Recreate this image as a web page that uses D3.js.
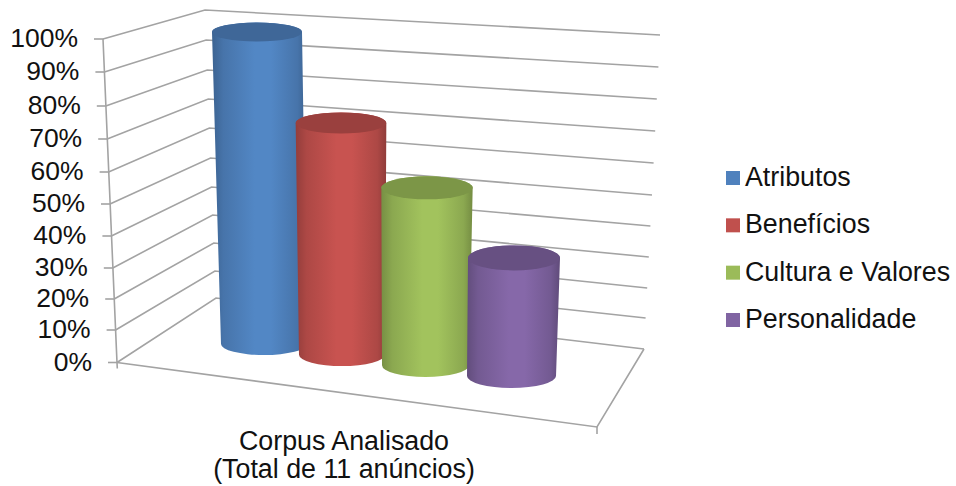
<!DOCTYPE html>
<html>
<head>
<meta charset="utf-8">
<script src="https://cdn.jsdelivr.net/npm/d3@7"></script>
<style>
  html, body { margin: 0; padding: 0; background: #fff; }
  svg { display: block; }
  text { font-family: "Liberation Sans", Arial, sans-serif; fill: #111; }
</style>
</head>
<body>
<svg id="chart" width="956" height="486"></svg>
<script>
const categories = ["Atributos", "Benefícios", "Cultura e Valores", "Personalidade"];
const seriesValues = [100, 73, 55, 36];
const tickValues = [0, 10, 20, 30, 40, 50, 60, 70, 80, 90, 100];
const axisLines = ["Corpus Analisado", "(Total de 11 anúncios)"];

const baseColors = ["#4F81BD", "#C0504D", "#9BBB59", "#8064A2"];

const svg = d3.select("#chart");
const defs = svg.append("defs");

// Corners of the 3D frame as functions of the axis value; the y scales are
// piecewise because perspective stretches the upper part of each wall
const pct = d3.scaleLinear().domain([0, 100]);
const frontX = pct.copy().range([117, 103]);
const frontY = d3.scaleLinear(tickValues, [362.5, 330, 299, 268, 236, 204, 172, 139, 106, 72, 39]);
const cornerX = pct.copy().range([216, 205]);
const cornerY = d3.scaleLinear(tickValues, [298, 271, 243, 215, 187, 158, 128, 99, 70, 40, 10]);
const rightX = pct.copy().range([644, 660]);
const rightY = d3.scaleLinear(tickValues, [349, 318, 288, 257, 226, 195, 163, 131, 99, 67, 35]);
const nearRight = [597, 427];

const gridColor = "#a3a3a3";
const line = d3.line();
const frame = svg.append("g")
  .attr("fill", "none")
  .attr("stroke", gridColor)
  .attr("stroke-width", 1.6);

// Side wall and back wall gridlines
tickValues.forEach(v => {
  frame.append("path").attr("d", line([
    [frontX(v), frontY(v)],
    [cornerX(v), cornerY(v)],
    [rightX(v), rightY(v)]
  ]));
  // tick mark to the left of the value axis
  frame.append("path").attr("d", line([
    [frontX(v) - 9, frontY(v)],
    [frontX(v), frontY(v)]
  ]));
});

// Value axis, floor edges and the tick hanging below the front corners
frame.append("path").attr("d", line([[frontX(100), frontY(100)], [frontX(0), frontY(0)], [frontX(0) + 0.3, frontY(0) + 6]]));
frame.append("path").attr("d", line([[frontX(0), frontY(0)], nearRight, [rightX(0), rightY(0)]]));
frame.append("path").attr("d", line([nearRight, [nearRight[0], nearRight[1] + 7]]));

// Value labels follow the slant of the axis
svg.append("g").selectAll("text").data(tickValues).join("text")
  .attr("x", v => frontX(v) - 25)
  .attr("y", v => frontY(v) + 8)
  .attr("text-anchor", "end")
  .attr("font-size", 26.5)
  .text(v => v + "%");

// Cylinders recede one step per series: later ones sit lower and slightly larger
const topCx = d3.scaleOrdinal(categories, [257, 341, 427, 514]);
const baseCx = d3.scaleOrdinal(categories, [264, 342, 425.5, 511.5]);
const baseCy = d3.scalePoint().domain(categories).range([344, 376]);
const unitPx = d3.scalePoint().domain(categories).range([3.12, 3.28]);
const topRx = d3.scalePoint().domain(categories).range([45, 46]);
const baseRx = d3.scaleOrdinal(categories, [43, 43, 43.5, 44.5]);
const topRy = d3.scalePoint().domain(categories).range([9.5, 12.5]);
const baseRy = d3.scalePoint().domain(categories).range([11, 12]);

categories.forEach((name, i) => {
  const c = d3.color(baseColors[i]);
  const g = defs.append("linearGradient").attr("id", "side" + i)
    .attr("x1", "0%").attr("x2", "100%").attr("y1", "0%").attr("y2", "0%");
  [[0, c.darker(0.75)], [0.12, c.darker(0.3)], [0.45, c.brighter(0.12)], [0.62, c.brighter(0.12)], [0.9, c.darker(0.3)], [1, c.darker(0.8)]]
    .forEach(([o, col]) => g.append("stop").attr("offset", o).attr("stop-color", col));
});

const bars = svg.append("g");
categories.forEach((name, i) => {
  const tx = topCx(name), trx = topRx(name), tr = topRy(name);
  const bx = baseCx(name), brx = baseRx(name), br = baseRy(name);
  const by = baseCy(name);
  const ty = by - seriesValues[i] * unitPx(name);
  const body = `M${tx - trx},${ty}
    L${bx - brx},${by}
    A${brx},${br} 0 0 0 ${bx + brx},${by}
    L${tx + trx},${ty}
    A${trx},${tr} 0 0 0 ${tx - trx},${ty}Z`;
  bars.append("path").attr("d", body).attr("fill", `url(#side${i})`);
  bars.append("ellipse")
    .attr("cx", tx).attr("cy", ty)
    .attr("rx", trx).attr("ry", tr)
    .attr("fill", d3.color(baseColors[i]).darker(0.62));
});

// Category label under the floor
svg.append("g").selectAll("text").data(axisLines).join("text")
  .attr("x", 344)
  .attr("y", (d, i) => 450 + i * 28)
  .attr("text-anchor", "middle")
  .attr("font-size", 26.8)
  .text(d => d);

// Legend
const legendY = d3.scalePoint().domain(categories).range([186, 328]);
const legend = svg.append("g").selectAll("g").data(categories).join("g");
legend.append("rect")
  .attr("x", 726)
  .attr("y", d => legendY(d) - 15)
  .attr("width", 14).attr("height", 14)
  .attr("fill", (d, i) => baseColors[i]);
legend.append("text")
  .attr("x", 745)
  .attr("y", d => legendY(d))
  .attr("font-size", 26.8)
  .text(d => d);
</script>
</body>
</html>
